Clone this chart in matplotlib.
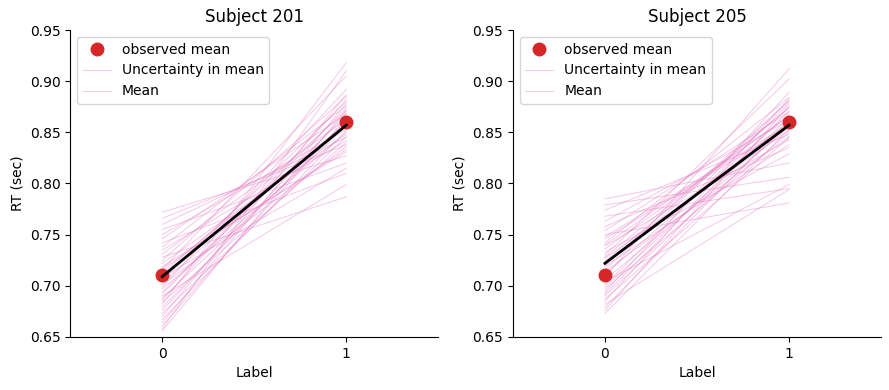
import matplotlib

matplotlib.use("Agg")
import matplotlib.pyplot as plt  # noqa: E402
import numpy as np  # noqa: E402

labels = [0, 1]
subjects = ["Subject 201", "Subject 205"]

# observed means per label
obs_201 = [0.711, 0.860]
obs_205 = [0.711, 0.860]

# posterior mean line (intercept at label 0, value at label 1)
mean_201 = [0.709, 0.857]
mean_205 = [0.722, 0.857]

# uncertainty draws: value at label 0 and label 1
draw_201_start = [0.772, 0.766, 0.760, 0.755, 0.750, 0.746, 0.742, 0.738, 0.735, 0.731,
                  0.728, 0.725, 0.722, 0.719, 0.716, 0.714, 0.711, 0.708, 0.706, 0.703,
                  0.701, 0.699, 0.697, 0.694, 0.692, 0.690, 0.688, 0.686, 0.684, 0.682,
                  0.679, 0.676, 0.673, 0.670, 0.667, 0.664, 0.661, 0.658, 0.656, 0.717]
draw_201_end = [0.827, 0.838, 0.845, 0.820, 0.853, 0.868, 0.810, 0.876, 0.842, 0.863,
                0.787, 0.885, 0.848, 0.831, 0.905, 0.857, 0.871, 0.815, 0.880, 0.860,
                0.836, 0.892, 0.850, 0.866, 0.874, 0.799, 0.856, 0.882, 0.840, 0.918,
                0.861, 0.869, 0.846, 0.887, 0.852, 0.878, 0.864, 0.910, 0.872, 0.833]

draw_205_start = [0.785, 0.779, 0.774, 0.768, 0.763, 0.758, 0.754, 0.750, 0.746, 0.742,
                  0.739, 0.736, 0.733, 0.730, 0.727, 0.724, 0.722, 0.719, 0.716, 0.714,
                  0.711, 0.709, 0.706, 0.704, 0.701, 0.699, 0.697, 0.694, 0.692, 0.690,
                  0.687, 0.685, 0.682, 0.679, 0.676, 0.673, 0.740, 0.728, 0.748, 0.720]
draw_205_end = [0.820, 0.806, 0.848, 0.795, 0.862, 0.835, 0.870, 0.781, 0.856, 0.884,
                0.843, 0.866, 0.829, 0.902, 0.852, 0.874, 0.860, 0.838, 0.880, 0.846,
                0.868, 0.912, 0.855, 0.799, 0.878, 0.864, 0.850, 0.889, 0.871, 0.858,
                0.845, 0.883, 0.794, 0.862, 0.876, 0.853, 0.866, 0.874, 0.858, 0.881]

panels = [
    (subjects[0], obs_201, mean_201, draw_201_start, draw_201_end),
    (subjects[1], obs_205, mean_205, draw_205_start, draw_205_end),
]

fig = plt.figure(figsize=(8.89, 3.9), dpi=100)
lefts = [0.079, 0.577]
for left, (title, obs, mean, d0, d1) in zip(lefts, panels):
    ax = fig.add_axes([left, 0.136, 0.414, 0.787])
    ax.plot(labels, obs, "o", color="C3", markersize=9, zorder=3)
    for a, b in zip(d0, d1):
        ax.plot(labels, [a, b], color="C6", alpha=0.4, linewidth=0.7, zorder=2)
    ax.plot(labels, mean, color="black", linewidth=2, zorder=4)
    ax.legend(["observed mean", "Uncertainty in mean", "Mean"], loc="upper left")
    ax.set_xlim(-0.5, 1.5)
    ax.set_ylim(0.65, 0.95)
    ax.set_xticks(labels)
    ax.set_yticks(np.arange(0.65, 0.951, 0.05))
    ax.set_xlabel("Label")
    ax.set_ylabel("RT (sec)")
    ax.set_title(title, fontsize=12)
    ax.spines["top"].set_visible(False)
    ax.spines["right"].set_visible(False)

fig.savefig("out.png", dpi=100)
